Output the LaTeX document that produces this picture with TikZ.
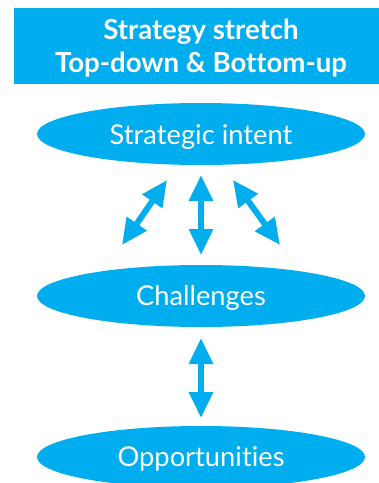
\documentclass[tikz,border=0pt]{standalone}
\usepackage{fontspec}
\setmainfont{Lato}[Ligatures=NoCommon]
\usetikzlibrary{arrows.meta,shapes.geometric}
\definecolor{cyanblue}{HTML}{00AEEF}
\tikzset{
  blob/.style={ellipse, fill=cyanblue, minimum width=328pt, minimum height=62pt, inner sep=0pt},
  lvltext/.style={text=white, font=\fontsize{27.3}{32}\selectfont, anchor=base},
  titletext/.style={text=white, font=\bfseries\fontsize{27.6}{32}\selectfont, anchor=base},
  dblarrow/.style={draw=cyanblue, line width=6pt,
    {Triangle[length=26pt,width=23pt]}-{Triangle[length=26pt,width=23pt]}}
}
\begin{document}
\begin{tikzpicture}[x=1pt,y=-1pt]
  \useasboundingbox (0,0) rectangle (379,483);
  % heading panel
  \fill[cyanblue] (14,8) rectangle (379,84);
  \node[titletext] (t1) at (201,39) {Strategy stretch};
  \node[titletext] (t2) at (201,72) {Top-down \& Bottom-up};
  % levels
  \node[blob] (intent) at (201,134) {};
  \node[lvltext] (intentT) at (201,144) {Strategic intent};
  \node[blob] (chal) at (201,296) {};
  \node[lvltext] (chalT) at (201,305) {Challenges};
  \node[blob] (opp) at (201,457) {};
  \node[lvltext] (oppT) at (201,466) {Opportunities};
  % arrow end points
  \coordinate (a1) at (167,180);
  \coordinate (b1) at (122,245);
  \coordinate (a2) at (201,175);
  \coordinate (b2) at (201,255);
  \coordinate (a3) at (233,180);
  \coordinate (b3) at (280,245);
  \coordinate (a4) at (201,338);
  \coordinate (b4) at (201,418);
  \draw[dblarrow] (a1) -- (b1);
  \draw[dblarrow] (a2) -- (b2);
  \draw[dblarrow] (a3) -- (b3);
  \draw[dblarrow] (a4) -- (b4);
\end{tikzpicture}
\end{document}
